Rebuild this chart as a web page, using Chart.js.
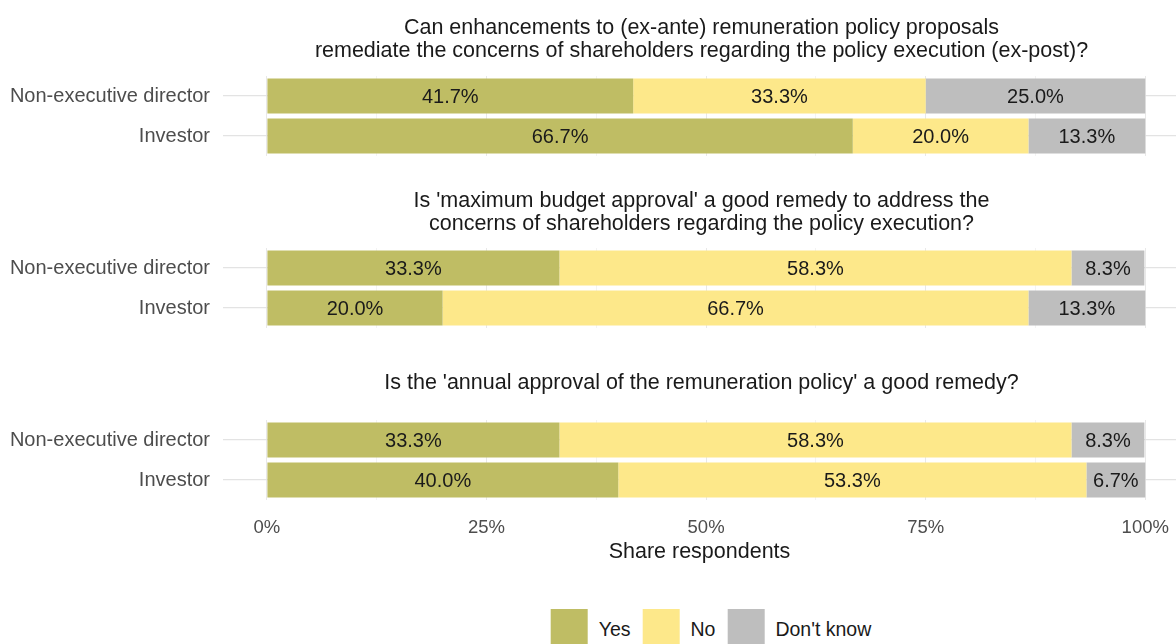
<!DOCTYPE html>
<html>
<head>
<meta charset="utf-8">
<script src="https://cdn.jsdelivr.net/npm/chart.js@4.4.1/dist/chart.umd.min.js"></script>
<style>
  body { margin: 0; background: #fff; width: 1176px; height: 644px; overflow: hidden; position: relative;
         font-family: "Liberation Sans", Arial, sans-serif; }
  canvas { position: absolute; left: 0; }
  #legend { position: absolute; top: 609px; left: 711px; transform: translateX(-50%);
            display: flex; white-space: nowrap; font-size: 19.5px; color: #1a1a1a; }
  #legend .item { display: flex; align-items: center; height: 40px; margin-right: 12px; }
  #legend .item:last-child { margin-right: 0; }
  #legend .swatch { width: 37px; height: 37px; margin-right: 11px; align-self: flex-start; }
</style>
</head>
<body>
<div id="legend"></div>
<script>
// Survey answers, one entry per question panel
const questions = [
  ["Can enhancements to (ex-ante) remuneration policy proposals",
   "remediate the concerns of shareholders regarding the policy execution (ex-post)?"],
  ["Is 'maximum budget approval' a good remedy to address the",
   "concerns of shareholders regarding the policy execution?"],
  ["Is the 'annual approval of the remuneration policy' a good remedy?"]
];
const respondents = ["Non-executive director", "Investor"];
const answers = ["Yes", "No", "Don't know"];
const yesShare = [[41.7, 66.7], [33.3, 20.0], [33.3, 40.0]];
const noShare = [[33.3, 20.0], [58.3, 66.7], [58.3, 53.3]];
const dontKnowShare = [[25.0, 13.3], [8.3, 13.3], [8.3, 6.7]];
const xTicks = [0, 25, 50, 75, 100];
const xMinorTicks = [12.5, 37.5, 62.5, 87.5];
const axisTitle = "Share respondents";

const colors = ["#bfbd64", "#fde88a", "#bebebe"];
const FONT = '"Liberation Sans", Arial, sans-serif';

// canvas placement for each panel
const panels = [
  { top: 0,   height: 170, padTop: 76, titleY: [28, 51] },
  { top: 170, height: 170, padTop: 78, titleY: [31, 54] },
  { top: 340, height: 304, padTop: 80, titleY: [43] }
];

// percentage printed in the middle of each segment
const segmentLabels = {
  id: "segmentLabels",
  afterDatasetsDraw(chart) {
    const ctx = chart.ctx;
    ctx.save();
    ctx.font = "20px " + FONT;
    ctx.fillStyle = "#1a1a1a";
    ctx.textAlign = "center";
    ctx.textBaseline = "middle";
    chart.data.datasets.forEach((ds, i) => {
      chart.getDatasetMeta(i).data.forEach((bar, j) => {
        ctx.fillText(ds.data[j].toFixed(1) + "%", (bar.x + bar.base) / 2, bar.y + 1);
      });
    });
    ctx.restore();
  }
};

// question text centred over the plot area
const panelTitle = {
  id: "panelTitle",
  afterDraw(chart, args, opts) {
    const ctx = chart.ctx;
    const cx = (chart.chartArea.left + chart.chartArea.right) / 2 + 2;
    ctx.save();
    ctx.font = "21.5px " + FONT;
    ctx.fillStyle = "#1a1a1a";
    ctx.textAlign = "center";
    ctx.textBaseline = "middle";
    opts.lines.forEach((line, i) => ctx.fillText(line, cx, opts.y[i]));
    ctx.restore();
  }
};

panels.forEach((p, k) => {
  const isLast = k === panels.length - 1;
  const canvas = document.createElement("canvas");
  canvas.width = 1176;
  canvas.height = p.height;
  canvas.style.top = p.top + "px";
  document.body.appendChild(canvas);

  const shares = [yesShare[k], noShare[k], dontKnowShare[k]];
  const axisHeight = isLast ? 71 : 0;

  new Chart(canvas, {
    type: "bar",
    data: {
      labels: respondents,
      datasets: answers.map((a, i) => ({
        label: a,
        data: shares[i],
        backgroundColor: colors[i],
        borderWidth: 0,
        barPercentage: 0.87,
        categoryPercentage: 1
      }))
    },
    options: {
      indexAxis: "y",
      responsive: false,
      animation: false,
      layout: { padding: { top: p.padTop, bottom: p.height - p.padTop - 80 - axisHeight, left: 0, right: 0 } },
      plugins: {
        legend: { display: false },
        tooltip: { enabled: false },
        panelTitle: { lines: questions[k], y: p.titleY }
      },
      scales: {
        x: {
          type: "linear",
          stacked: true,
          min: -5,
          max: 103.5,
          afterBuildTicks: s => {
            s.ticks = xTicks.concat(xMinorTicks).sort((a, b) => a - b).map(v => ({ value: v }));
          },
          afterFit: s => {
            s.height = axisHeight;
            s.paddingLeft = 0;
            s.paddingRight = 0;
          },
          border: { display: false },
          grid: {
            drawTicks: false,
            lineWidth: 1,
            color: c => (c.tick && xTicks.includes(c.tick.value)) ? "#e8e8e8" : "#f3f3f3"
          },
          ticks: {
            display: isLast,
            autoSkip: false,
            maxRotation: 0,
            padding: 17,
            color: "#4d4d4d",
            font: { family: FONT, size: 18.5 },
            callback: v => xTicks.includes(v) ? v + "%" : ""
          },
          title: {
            display: isLast,
            text: axisTitle,
            color: "#1a1a1a",
            font: { family: FONT, size: 21.5 },
            padding: { top: 0, bottom: 6 }
          }
        },
        y: {
          stacked: true,
          offset: true,
          afterFit: s => {
            s.width = 223;
            s.paddingTop = 0;
            s.paddingBottom = 0;
          },
          border: { display: false },
          grid: { offset: false, drawTicks: false, color: "#e3e3e3", lineWidth: 1.2 },
          ticks: { padding: 13, color: "#4d4d4d", font: { family: FONT, size: 20 } }
        }
      }
    },
    plugins: [segmentLabels, panelTitle]
  });
});

// legend row under the bottom panel
const legend = document.getElementById("legend");
answers.forEach((a, i) => {
  const item = document.createElement("div");
  item.className = "item";
  const sw = document.createElement("div");
  sw.className = "swatch";
  sw.style.background = colors[i];
  const txt = document.createElement("span");
  txt.textContent = a;
  item.appendChild(sw);
  item.appendChild(txt);
  legend.appendChild(item);
});
</script>
</body>
</html>
